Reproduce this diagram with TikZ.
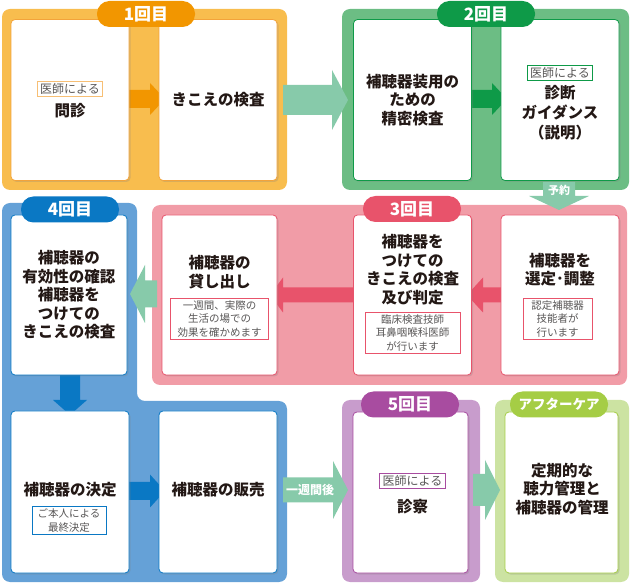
\documentclass[tikz,border=0pt]{standalone}
\usepackage{fontspec}
\setmainfont{Noto Sans CJK JP}
\usetikzlibrary{shadows}
\definecolor{orOut}{HTML}{F8BD4E}
\definecolor{orTab}{HTML}{F29600}
\definecolor{orLine}{HTML}{F3A33A}
\definecolor{grOut}{HTML}{6CBD84}
\definecolor{grTab}{HTML}{0E9A48}
\definecolor{pkOut}{HTML}{F19CA7}
\definecolor{pkTab}{HTML}{E8536B}
\definecolor{blOut}{HTML}{65A1D7}
\definecolor{blTab}{HTML}{0A78C4}
\definecolor{puOut}{HTML}{C89CCC}
\definecolor{puTab}{HTML}{A84CA0}
\definecolor{lgOut}{HTML}{CCE3A2}
\definecolor{lgTab}{HTML}{A5CD45}
\definecolor{tealA}{HTML}{87CAAA}
\definecolor{ink}{HTML}{231815}
\definecolor{subink}{HTML}{595757}
\newcommand\hArrow[7]{\fill[#1] (#2,#5-#6) -- (#3,#5-#6) -- (#3,#5-#7) -- (#4,#5) -- (#3,#5+#7) -- (#3,#5+#6) -- (#2,#5+#6) -- cycle;}
\newcommand\vArrow[7]{\fill[#1] (#5-#6,#2) -- (#5-#6,#3) -- (#5-#7,#3) -- (#5,#4) -- (#5+#7,#3) -- (#5+#6,#3) -- (#5+#6,#2) -- cycle;}
\begin{document}
\begin{tikzpicture}[x=1pt,y=-1pt,
  grp/.style={rounded corners=8pt},
  wbox/.style={draw, fill=white, rounded corners=4pt, line width=0.8pt, minimum width=118pt, minimum height=161pt, inner sep=0pt,
     drop shadow={opacity=0.25, shadow xshift=1.5pt, shadow yshift=-1.5pt}},
  mtext/.style={font=\bfseries\fontsize{15.5}{18.5}\selectfont, text=ink, align=center, inner sep=0pt},
  stext/.style={draw, line width=0.7pt, fill=white, font=\fontsize{10.5}{13.5}\selectfont, text=subink, align=center, inner xsep=3pt, inner ysep=2.5pt},
  dtext/.style={draw, line width=0.7pt, fill=white, font=\fontsize{12}{14}\selectfont, text=subink, inner xsep=3pt, inner ysep=2pt},
  tab/.style={rounded corners=12.5pt, minimum width=98pt, minimum height=26pt, text=white, font=\bfseries\fontsize{17}{17}\selectfont, inner sep=0pt},
  atext/.style={text=white, font=\bfseries\fontsize{12}{12}\selectfont, inner sep=0pt}
]
\useasboundingbox (0,0) rectangle (630,585);
% group backgrounds
\fill[orOut, grp] (2,9) rectangle (287,190);
\fill[grOut, grp] (342,9) rectangle (629,190);
\fill[pkOut, grp] (152,205) rectangle (627,385);
\fill[blOut, rounded corners=8pt] (2,203) -- (137,203) -- (137,401) -- (287,401) -- (287,582) -- (2,582) -- cycle;
\fill[puOut, grp] (342,400) rectangle (480,582);
\fill[lgOut, grp] (495,400) rectangle (629,582);
% block arrows
\hArrow{orTab}{126}{150}{165}{99}{9}{16}
\hArrow{tealA}{283}{332}{348}{100}{15}{30}
\hArrow{grTab}{467}{492}{507}{99}{9}{16}
\hArrow{pkTab}{505}{483}{467}{295}{7.5}{17.5}
\hArrow{pkTab}{358}{283}{270}{295}{7.5}{17.5}
\hArrow{tealA}{157}{145}{130}{294}{13.5}{29}
\hArrow{blTab}{126}{150}{165}{491}{9}{16.5}
\hArrow{tealA}{283}{333}{348}{490}{12.5}{29}
\hArrow{tealA}{473}{485}{500}{490}{16}{30}
\vArrow{blTab}{372}{400}{415}{70}{10}{17}
\vArrow{tealA}{182}{196}{210}{559}{16}{30}
\node[atext] (yoyaku) at (559,190) {\fontsize{11}{11}\selectfont 予約};
\node[atext] (isshukan) at (310,490) {一週間後};
% white boxes
\node[wbox, draw=orLine] (b1) at (70,100) {};
\node[wbox, draw=orLine] (b2) at (218,100) {};
\node[wbox, draw=grTab] (b3) at (412.5,100) {};
\node[wbox, draw=grTab] (b4) at (560,100) {};
\node[wbox, draw=blTab, minimum width=116pt, minimum height=160pt] (b5) at (69,295) {};
\node[wbox, draw=pkTab, minimum width=115pt, minimum height=160pt] (b6) at (219.5,295) {};
\node[wbox, draw=pkTab, minimum height=160pt] (b7) at (412.5,295) {};
\node[wbox, draw=pkTab, minimum height=160pt] (b8) at (560,295) {};
\node[wbox, draw=blTab, minimum height=162pt] (b9) at (70,492) {};
\node[wbox, draw=blTab, minimum height=162pt] (b10) at (218,492) {};
\node[wbox, draw=puTab, minimum width=115pt] (b11) at (410.5,492.5) {};
\node[wbox, draw=lgTab, minimum width=113pt] (b12) at (561.5,492.5) {};
% tabs
\node[tab, fill=orTab] (tab1) at (146,14) {1回目};
\node[tab, fill=grTab] (tab2) at (486,14) {2回目};
\node[tab, fill=pkTab] (tab3) at (412,209) {3回目};
\node[tab, fill=blTab] (tab4) at (70,209.5) {4回目};
\node[tab, fill=puTab] (tab5) at (410,404.5) {5回目};
\node[tab, fill=lgTab, font=\bfseries\fontsize{13.5}{13.5}\selectfont] (tab6) at (559,404.5) {アフターケア};
% texts
\node[dtext, draw=orLine!70] (s1) at (70,89) {医師による};
\node[mtext] (t1) at (70,111) {問診};
\node[mtext] (t2) at (218,100) {きこえの検査};
\node[mtext] (t3) at (412.5,100) {補聴器装用の\\ための\\精密検査};
\node[dtext, draw=grTab] (s4) at (560,73) {医師による};
\node[mtext, font=\bfseries\fontsize{15.5}{20}\selectfont] (t4) at (560,113) {診断\\ガイダンス\\（説明）};
\node[mtext] (t5) at (69,295) {補聴器の\\有効性の確認\\補聴器を\\つけての\\きこえの検査};
\node[mtext] (t6) at (219.5,272) {補聴器の\\貸し出し};
\node[stext, draw=pkTab, minimum width=98pt] (s6) at (219.5,319) {一週間、実際の\\生活の場での\\効果を確かめます};
\node[mtext] (t7) at (412.5,269.5) {補聴器を\\つけての\\きこえの検査\\及び判定};
\node[stext, draw=pkTab, minimum width=95pt] (s7) at (412.5,333) {臨床検査技師\\耳鼻咽喉科医師\\が行います};
\node[mtext] (t8) at (560,269.5) {補聴器を\\選定･調整};
\node[stext, draw=pkTab, minimum width=69pt] (s8) at (557.5,319) {認定補聴器\\技能者が\\行います};
\node[mtext] (t9) at (70,490) {補聴器の決定};
\node[stext, draw=blTab, minimum width=74pt] (s9) at (69,520.5) {ご本人による\\最終決定};
\node[mtext] (t10) at (218,490) {補聴器の販売};
\node[dtext, draw=puTab] (s11) at (412.5,481) {医師による};
\node[mtext] (t11) at (412.5,507) {診察};
\node[mtext] (t12) at (562,489) {定期的な\\聴力管理と\\補聴器の管理};
\end{tikzpicture}
\end{document}
